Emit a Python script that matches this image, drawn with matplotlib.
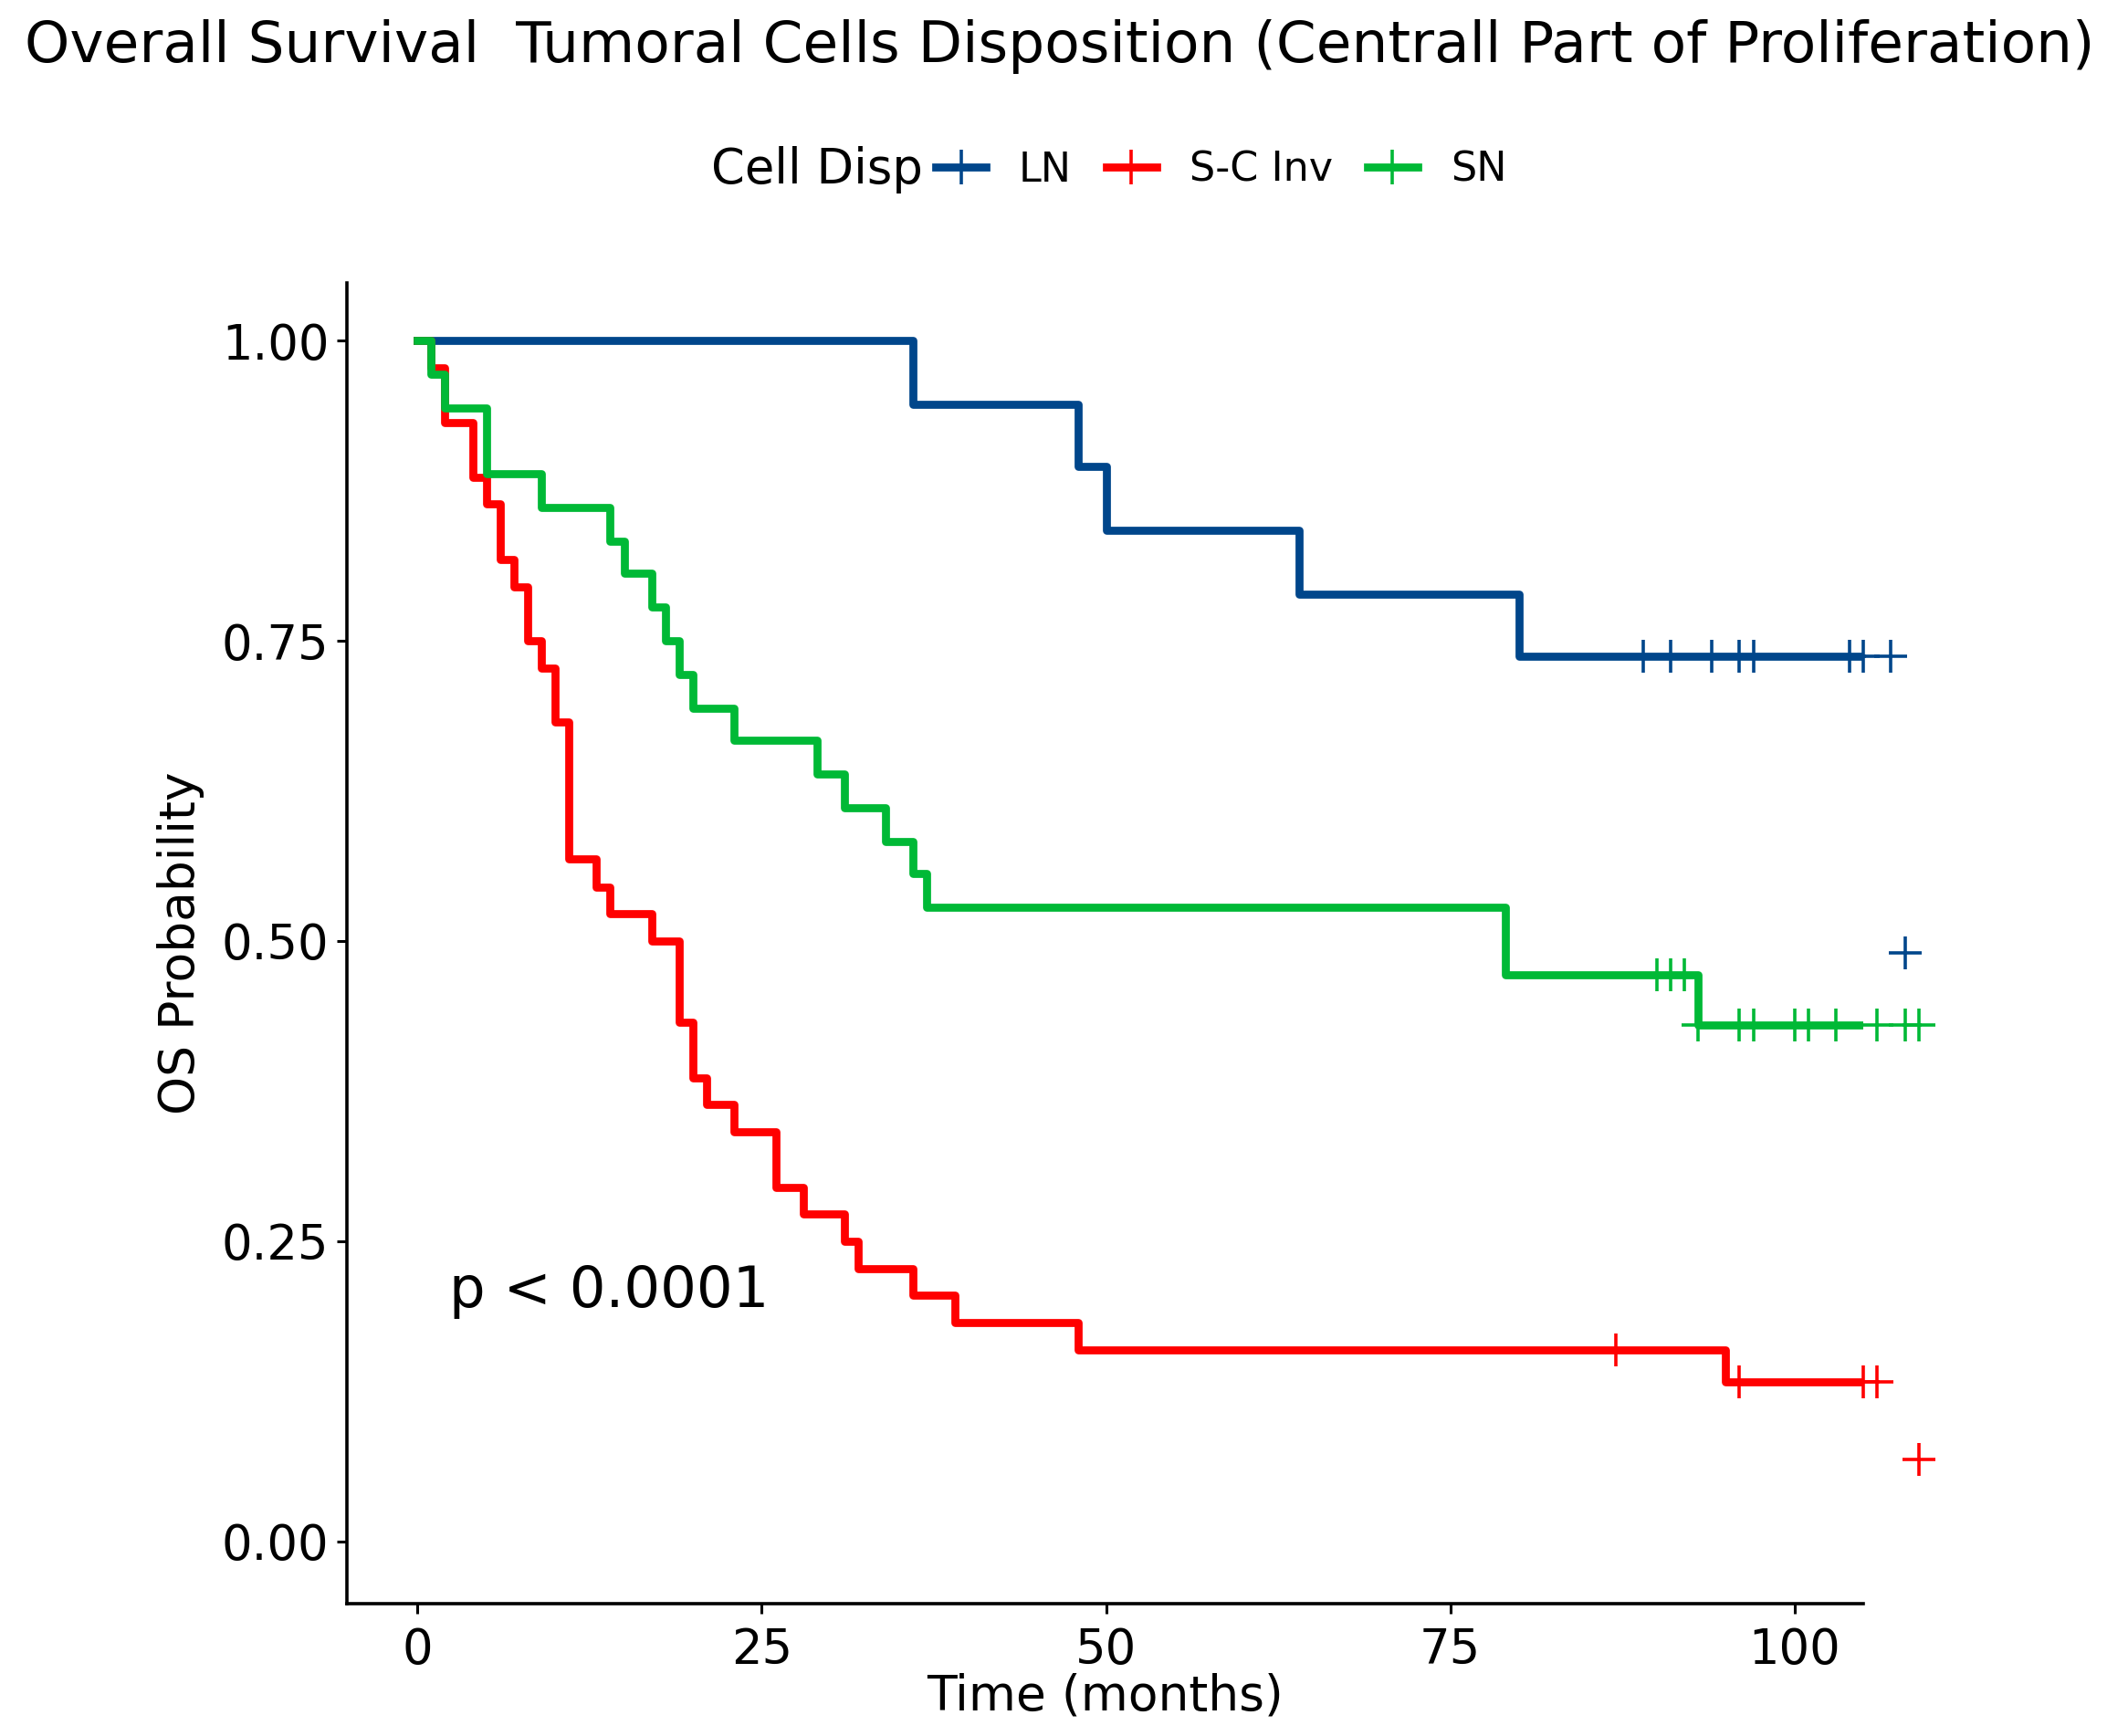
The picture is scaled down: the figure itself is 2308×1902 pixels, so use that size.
import numpy as np
import matplotlib
matplotlib.use("Agg")
import matplotlib.pyplot as plt
from matplotlib.lines import Line2D

# Kaplan-Meier steps (time in months, survival probability)
ln_time = [0, 36, 48, 50, 64, 80]
ln_surv = [1.000, 0.947, 0.895, 0.842, 0.789, 0.737]
ln_censor = [89, 91, 94, 96, 97, 104, 105, 107]
ln_stray = ([108], [0.49])

scinv_time = [0, 1, 2, 4, 5, 6, 7, 8, 9, 10, 11, 13, 14, 17, 19, 20, 21,
              23, 26, 28, 31, 32, 36, 39, 48, 95]
scinv_surv = [1.000, 0.977, 0.932, 0.886, 0.864, 0.818, 0.795, 0.750, 0.727,
              0.682, 0.568, 0.545, 0.523, 0.500, 0.432, 0.386, 0.364, 0.341,
              0.295, 0.273, 0.250, 0.227, 0.205, 0.182, 0.159, 0.133]
scinv_censor = [87, 96, 105, 106]
scinv_stray = ([109], [0.068])

sn_time = [0, 1, 2, 5, 9, 14, 15, 17, 18, 19, 20, 23, 29, 31, 34, 36, 37, 79, 93]
sn_surv = [1.000, 0.972, 0.944, 0.889, 0.861, 0.833, 0.806, 0.778, 0.750,
           0.722, 0.694, 0.667, 0.639, 0.611, 0.583, 0.556, 0.528, 0.472, 0.430]
sn_censor = [90, 91, 92, 93, 96, 97, 100, 101, 103, 106, 108, 109]
sn_stray = ([], [])

groups = ['LN', 'S-C Inv', 'SN']
colors = ['#00468B', '#FF0000', '#00B936']
x_ticks = [0, 25, 50, 75, 100]
y_ticks = [0.00, 0.25, 0.50, 0.75, 1.00]


def _plot_km(axis, times, surv, censor, stray, color):
    """Draw one step curve plus its censor marks."""
    times = np.asarray(times, dtype=float)
    surv = np.asarray(surv, dtype=float)
    end = max(censor) if censor else times[-1]
    xs = np.append(times, end)
    ys = np.append(surv, surv[-1])
    axis.step(xs, ys, where='post', color=color, lw=6.3, zorder=3)
    idx = np.searchsorted(times, censor, side='right') - 1
    axis.plot(censor, surv[idx], ls='none', marker='+', ms=26, mew=2.6,
              color=color, clip_on=False, zorder=4)
    if stray[0]:
        axis.plot(stray[0], stray[1], ls='none', marker='+', ms=26, mew=2.6,
                  color=color, clip_on=False, zorder=4)


fig = plt.figure(figsize=(23.08, 19.02), dpi=100)
ax = fig.add_axes([0.1646, 0.0762, 0.7195, 0.7608])

_plot_km(ax, ln_time, ln_surv, ln_censor, ln_stray, colors[0])
_plot_km(ax, scinv_time, scinv_surv, scinv_censor, scinv_stray, colors[1])
_plot_km(ax, sn_time, sn_surv, sn_censor, sn_stray, colors[2])

ax.set_xlim(-5.13, 104.95)
ax.set_ylim(-0.052, 1.048)
ax.set_xticks(x_ticks)
ax.set_yticks(y_ticks)
ax.set_yticklabels(['%.2f' % v for v in y_ticks])
ax.tick_params(axis='both', labelsize=38, length=8, width=2.2, color='black',
               labelcolor='black')
ax.tick_params(axis='x', pad=10)
ax.tick_params(axis='y', pad=6)
for side in ['top', 'right']:
    ax.spines[side].set_visible(False)
for side in ['left', 'bottom']:
    ax.spines[side].set_linewidth(2.6)
    ax.spines[side].set_color('black')

ax.set_xlabel('Time (months)', fontsize=38.5)
ax.set_ylabel('OS Probability', fontsize=38.5)
ax.xaxis.set_label_coords(0.5, -0.052)
ax.yaxis.set_label_coords(-0.094, 0.5)

ax.text(2.3, 0.208, 'p < 0.0001', fontsize=45, ha='left', va='center')

fig.text(0.503, 0.973,
         'Overall Survival  Tumoral Cells Disposition (Centrall Part of Proliferation)',
         fontsize=45.3, ha='center', va='center')

fig.text(0.438, 0.902, 'Cell Disp', fontsize=38, ha='right', va='center')
handles = [Line2D([0], [0], color=c, lw=6.3, marker='|', ms=27, mew=2.6)
           for c in colors]
ax.legend(handles, groups, loc='center left', bbox_to_anchor=(0.444, 0.902),
          bbox_transform=fig.transFigure, ncol=3, frameon=False, fontsize=32,
          handlelength=1.25, handletextpad=0.8, columnspacing=0.85,
          borderpad=0, borderaxespad=0, numpoints=1)

fig.savefig('out.png', dpi=100, facecolor='white')
plt.close(fig)
